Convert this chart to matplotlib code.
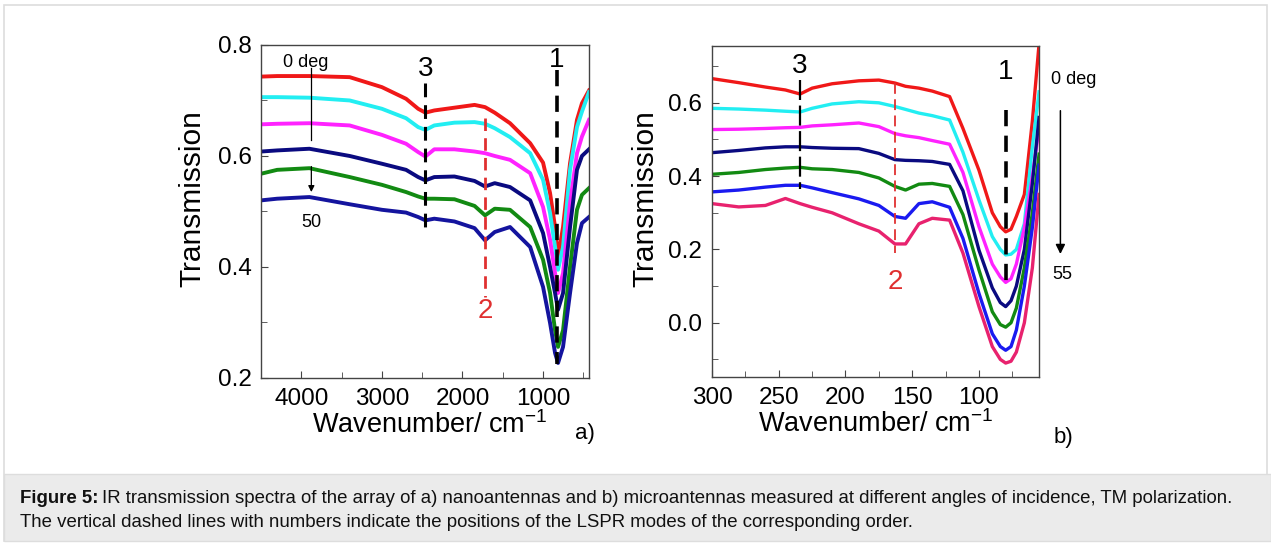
import numpy as np
import matplotlib
matplotlib.use("Agg")
import matplotlib.pyplot as plt
from matplotlib.patches import Rectangle
from matplotlib.ticker import MultipleLocator

plt.rcParams['font.family'] = ['Liberation Sans', 'DejaVu Sans']
plt.rcParams['mathtext.default'] = 'regular'

# === Datos panel a) nanoantenas ===
wn_a = [4500, 4300, 3900, 3400, 3000, 2700, 2550, 2460, 2350, 2100, 1850, 1720,
        1600, 1410, 1160, 1000, 913, 851, 814, 752, 665, 579, 517, 430]
a_red = [0.743, 0.744, 0.744, 0.742, 0.724, 0.703, 0.685, 0.678, 0.682, 0.687, 0.692, 0.688,
         0.678, 0.659, 0.623, 0.588, 0.533, 0.472, 0.418, 0.472, 0.587, 0.665, 0.695, 0.718]
a_cyan = [0.706, 0.706, 0.705, 0.700, 0.685, 0.668, 0.652, 0.647, 0.655, 0.660, 0.661, 0.658,
          0.650, 0.634, 0.605, 0.557, 0.497, 0.436, 0.395, 0.436, 0.575, 0.652, 0.680, 0.715]
a_mag = [0.657, 0.658, 0.659, 0.655, 0.638, 0.622, 0.607, 0.599, 0.612, 0.612, 0.608, 0.605,
         0.600, 0.593, 0.569, 0.508, 0.449, 0.389, 0.353, 0.389, 0.515, 0.605, 0.635, 0.665]
a_navy = [0.608, 0.610, 0.613, 0.600, 0.586, 0.575, 0.562, 0.556, 0.562, 0.563, 0.555, 0.545,
          0.551, 0.544, 0.520, 0.461, 0.400, 0.353, 0.323, 0.353, 0.472, 0.575, 0.600, 0.612]
a_green = [0.568, 0.575, 0.578, 0.562, 0.548, 0.535, 0.527, 0.523, 0.523, 0.522, 0.510, 0.493,
           0.505, 0.503, 0.472, 0.413, 0.353, 0.286, 0.256, 0.286, 0.400, 0.503, 0.530, 0.542]
a_blue = [0.520, 0.523, 0.526, 0.513, 0.503, 0.498, 0.490, 0.484, 0.487, 0.482, 0.470, 0.448,
          0.463, 0.472, 0.436, 0.364, 0.299, 0.245, 0.227, 0.256, 0.353, 0.443, 0.479, 0.490]
series_a = [a_red, a_cyan, a_mag, a_navy, a_green, a_blue]
colors_a = ['#f01818', '#22eef2', '#ff22ff', '#0a0a80', '#128a12', '#14149e']

# modos (posición, y inicio, y fin)
modes_a = [2460, 1720, 830]
modes_a_y0 = [0.731, 0.668, 0.755]
modes_a_y1 = [0.472, 0.346, 0.226]
modes_a_lbl = ['3', '2', '1']
modes_a_lbl_y = [0.757, 0.321, 0.773]

# === Datos panel b) microantenas ===
wn_b = [300, 280, 260, 245, 234, 225, 210, 190, 175, 163, 155, 145,
        135, 122, 112, 100, 90, 84, 80, 76, 72, 66, 60, 55]
b_red = [0.666, 0.655, 0.643, 0.635, 0.624, 0.640, 0.652, 0.660, 0.662, 0.654, 0.645, 0.640,
         0.632, 0.617, 0.530, 0.416, 0.300, 0.262, 0.248, 0.255, 0.290, 0.350, 0.550, 0.760]
b_cyan = [0.585, 0.583, 0.580, 0.577, 0.575, 0.585, 0.597, 0.603, 0.600, 0.590, 0.582, 0.572,
          0.565, 0.553, 0.465, 0.335, 0.235, 0.200, 0.185, 0.187, 0.200, 0.270, 0.480, 0.630]
b_mag = [0.527, 0.528, 0.530, 0.532, 0.533, 0.537, 0.540, 0.545, 0.535, 0.516, 0.510, 0.505,
         0.497, 0.487, 0.410, 0.262, 0.160, 0.125, 0.110, 0.120, 0.160, 0.260, 0.400, 0.530]
b_navy = [0.464, 0.470, 0.477, 0.480, 0.480, 0.478, 0.476, 0.475, 0.462, 0.445, 0.443, 0.442,
          0.440, 0.432, 0.360, 0.198, 0.095, 0.055, 0.044, 0.060, 0.100, 0.200, 0.380, 0.560]
b_green = [0.405, 0.410, 0.418, 0.422, 0.424, 0.420, 0.418, 0.410, 0.395, 0.372, 0.362, 0.378,
           0.380, 0.372, 0.295, 0.144, 0.030, -0.005, -0.012, 0.000, 0.040, 0.150, 0.300, 0.460]
b_blue = [0.357, 0.362, 0.370, 0.375, 0.375, 0.368, 0.355, 0.338, 0.320, 0.290, 0.285, 0.325,
          0.330, 0.315, 0.230, 0.080, -0.030, -0.065, -0.075, -0.065, -0.020, 0.100, 0.260, 0.430]
b_pink = [0.325, 0.316, 0.320, 0.339, 0.325, 0.315, 0.300, 0.270, 0.250, 0.215, 0.215, 0.270,
          0.285, 0.280, 0.190, 0.044, -0.065, -0.100, -0.110, -0.105, -0.080, 0.000, 0.150, 0.350]
series_b = [b_red, b_cyan, b_mag, b_navy, b_green, b_blue, b_pink]
colors_b = ['#f01818', '#22eef2', '#ff22ff', '#0a0a80', '#128a12', '#1a1af0', '#e8226e']

modes_b = [234, 163, 80]
modes_b_y0 = [0.662, 0.653, 0.580]
modes_b_y1 = [0.366, 0.189, 0.107]
modes_b_lbl = ['3', '2', '1']
modes_b_lbl_y = [0.700, 0.112, 0.684]

# === Figura ===
fig = plt.figure(figsize=(12.71, 5.43), dpi=100)

# marco y caja del pie de figura
fig.patches.append(Rectangle((4 / 1271, 2 / 543), 1263 / 1271, 536 / 543,
                             transform=fig.transFigure, fill=False,
                             edgecolor='#dddddd', lw=1.2, zorder=0))
fig.patches.append(Rectangle((4 / 1271, 2 / 543), 1267 / 1271, 67 / 543,
                             transform=fig.transFigure, facecolor='#ebebeb',
                             edgecolor='#dddddd', lw=1.0, zorder=0))

ax1 = fig.add_axes([0.2054, 0.3039, 0.2580, 0.6133])
ax2 = fig.add_axes([0.5602, 0.3057, 0.2573, 0.6096])


def style_axes(ax, ypad, ylab_x, xlab_x):
    for s in ax.spines.values():
        s.set_color('#444444')
        s.set_linewidth(1.0)
    ax.tick_params(which='both', direction='in', top=False, right=False,
                   labelsize=17.5, color='#444444')
    ax.tick_params(axis='x', pad=7)
    ax.tick_params(axis='y', pad=ypad)
    ax.tick_params(which='major', length=5)
    ax.tick_params(which='minor', length=4)
    ax.set_ylabel("Transmission", fontsize=21.5)
    ax.set_xlabel("Wavenumber/ cm$^{-1}$", fontsize=19.5)
    ax.yaxis.set_label_coords(ylab_x, 0.54)
    ax.xaxis.set_label_coords(xlab_x, -0.10)


# --- panel a ---
for y, c in zip(series_a, colors_a):
    ax1.plot(wn_a, y, color=c, lw=2.8, solid_joinstyle='round')
ax1.set_xlim(4500, 430)
ax1.set_ylim(0.2, 0.8)
ax1.xaxis.set_major_locator(MultipleLocator(1000))
ax1.xaxis.set_minor_locator(MultipleLocator(500))
ax1.yaxis.set_major_locator(MultipleLocator(0.2))
ax1.yaxis.set_minor_locator(MultipleLocator(0.1))
ax1.yaxis.set_major_formatter(plt.FormatStrFormatter('%.1f'))
style_axes(ax1, 6.5, -0.168, 0.515)

dash_col_a = ['black', '#e03030', 'black']
dash_lw_a = [2.2, 2.0, 2.6]
for x, y0, y1, c, lw, lb, ly in zip(modes_a, modes_a_y0, modes_a_y1, dash_col_a,
                                    dash_lw_a, modes_a_lbl, modes_a_lbl_y):
    ax1.plot([x, x], [y0, y1], color=c, lw=lw, dashes=(4.5, 2.6), zorder=5)
    ax1.text(x, ly, lb, color=c, fontsize=20, ha='center', va='center', zorder=6)

ax1.text(3950, 0.769, "0 deg", fontsize=13, ha='center', va='center')
ax1.plot([3876, 3876], [0.759, 0.629], color='black', lw=0.9, zorder=6)
ax1.annotate("", xy=(3876, 0.530), xytext=(3876, 0.586),
             arrowprops=dict(arrowstyle='-|>', color='black', lw=0.9,
                             mutation_scale=9), zorder=6)
ax1.text(3876, 0.481, "50", fontsize=13, ha='center', va='center')
fig.text(585 / 1271, 1 - 434 / 543, "a)", fontsize=16, ha='center', va='center')

# --- panel b ---
for y, c in zip(series_b, colors_b):
    ax2.plot(wn_b, y, color=c, lw=2.4, solid_joinstyle='round')
ax2.set_xlim(300, 55)
ax2.set_ylim(-0.148, 0.755)
ax2.xaxis.set_major_locator(MultipleLocator(50))
ax2.xaxis.set_minor_locator(MultipleLocator(25))
ax2.yaxis.set_major_locator(MultipleLocator(0.2))
ax2.yaxis.set_minor_locator(MultipleLocator(0.1))
ax2.yaxis.set_major_formatter(plt.FormatStrFormatter('%.1f'))
style_axes(ax2, 7.5, -0.162, 0.50)

dash_col_b = ['black', '#e03030', 'black']
dash_lw_b = [1.6, 1.3, 2.6]
dash_pat_b = [(9, 2.5), (6, 3), (4.5, 2.6)]
for x, y0, y1, c, lw, dp, lb, ly in zip(modes_b, modes_b_y0, modes_b_y1, dash_col_b,
                                        dash_lw_b, dash_pat_b, modes_b_lbl, modes_b_lbl_y):
    ax2.plot([x, x], [y0, y1], color=c, lw=lw, dashes=dp, zorder=5)
    ax2.text(x, ly, lb, color=c, fontsize=20, ha='center', va='center', zorder=6)

ax2.text(29.2, 0.663, "0 deg", fontsize=13, ha='center', va='center', clip_on=False)
ax2.annotate("", xy=(39, 0.18), xytext=(39, 0.586), annotation_clip=False,
             arrowprops=dict(arrowstyle='-|>', color='black', lw=1.1,
                             mutation_scale=14))
ax2.text(37.5, 0.131, "55", fontsize=13, ha='center', va='center', clip_on=False)
fig.text(1063 / 1271, 1 - 437 / 543, "b)", fontsize=16, ha='center', va='center')

# --- pie de figura ---
cap_x = 20 / 1271
t1 = fig.text(cap_x, 1 - 503 / 543, "Figure 5:", fontsize=13.4, fontweight='bold',
              ha='left', va='baseline', color='#111111')
fig.canvas.draw()
bb = t1.get_window_extent(renderer=fig.canvas.get_renderer())
fig.text(bb.x1 / fig.bbox.width + 4 / 1271, 1 - 503 / 543,
         "IR transmission spectra of the array of a) nanoantennas and b) microantennas "
         "measured at different angles of incidence, TM polarization.",
         fontsize=13.4, ha='left', va='baseline', color='#111111')
fig.text(cap_x, 1 - 527 / 543,
         "The vertical dashed lines with numbers indicate the positions of the LSPR modes "
         "of the corresponding order.", fontsize=13.4, ha='left', va='baseline', color='#111111')

fig.savefig("out.png", dpi=100)
